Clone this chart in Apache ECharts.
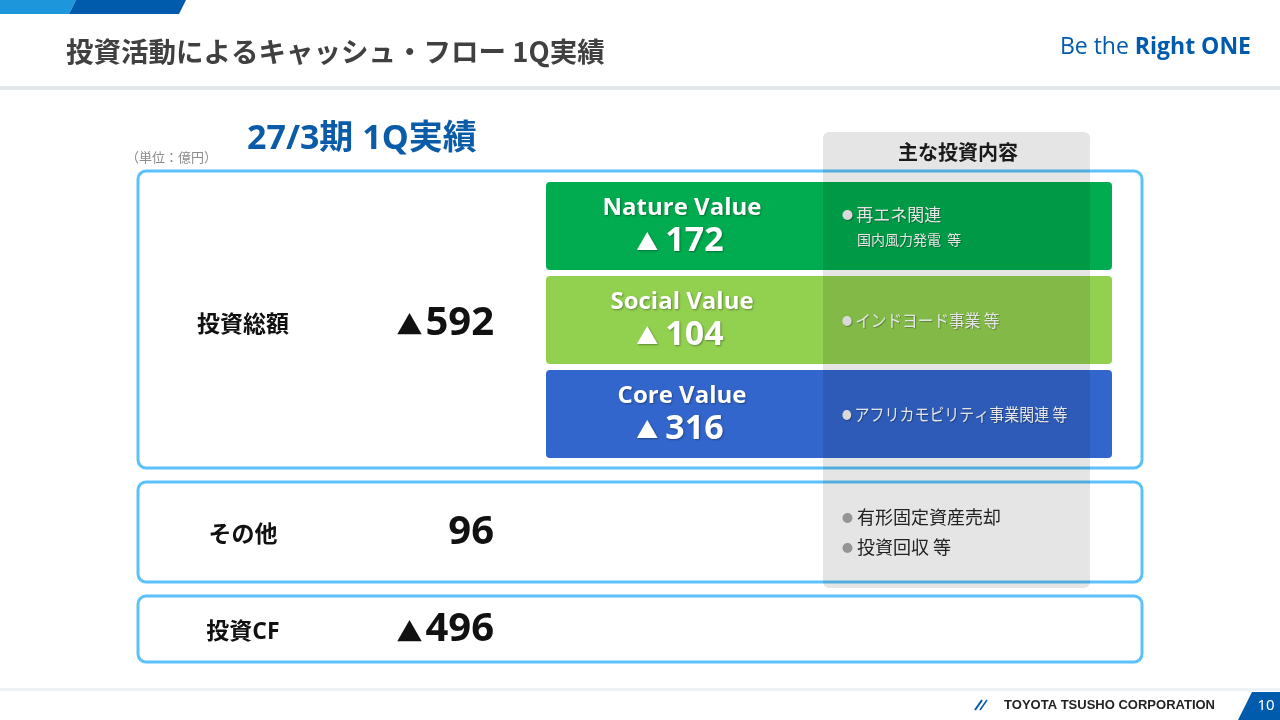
<!DOCTYPE html>
<html>
<head>
<meta charset="utf-8">
<script src="https://cdn.jsdelivr.net/npm/echarts@6/dist/echarts.min.js"></script>
<style>
html,body{margin:0;padding:0;background:#fff;}
#main{width:1280px;height:720px;}
</style>
</head>
<body>
<div id="main"></div>
<script>
// ---- data ----
const pageTitle = '投資活動によるキャッシュ・フロー 1Q実績';
const periodLabel = '27/3期 1Q実績';
const unitLabel = '（単位：億円）';
const detailHeader = '主な投資内容';
const rowLabels = ['投資総額', 'その他', '投資CF'];
const rowValues = [-592, 96, -496];
const segNames = ['Nature Value', 'Social Value', 'Core Value'];
const segValues = [-172, -104, -316];
const segDetails = ['再エネ関連', 'インドヨード事業 等', 'アフリカモビリティ事業関連 等'];
const segSubDetails = ['国内風力発電  等', '', ''];
const otherDetails = ['有形固定資産売却', '投資回収 等'];
const pageNumber = '10';

const JP = '"Noto Sans CJK JP", "Noto Sans", sans-serif';
const LAT = '"Open Sans", "Noto Sans CJK JP", sans-serif';
// value text with small triangle for negatives
const fmtRich = v => v < 0 ? '{t|▲}{n|' + Math.abs(v) + '}' : '{n|' + v + '}';
// horizontal condensing of detail lines (proportional kana in the original font)
const detailScaleX = [1, 0.92, 0.88];

const g = [];
// header bars
g.push({type:'polygon', shape:{points:[[0,0],[76,0],[69,14],[0,14]]}, style:{fill:'#1E96DC'}});
g.push({type:'polygon', shape:{points:[[76,0],[186,0],[179,14],[69,14]]}, style:{fill:'#005BAC'}});
// title
g.push({type:'text', style:{text:pageTitle, x:66, y:52, fontFamily:JP, fontWeight:'bold', fontSize:27.5, fill:'#404040', textVerticalAlign:'middle'}});
g.push({type:'text', style:{text:'{a|Be the }{b|Right ONE}', x:1251, y:47, textAlign:'right', textVerticalAlign:'middle',
  rich:{a:{fontFamily:'"Open Sans", sans-serif', fontSize:23, fill:'#005BAC', fontWeight:'normal'},
        b:{fontFamily:'"Open Sans", sans-serif', fontSize:23, fill:'#005BAC', fontWeight:'bold'}}}});
g.push({type:'rect', shape:{x:0, y:86, width:1280, height:4}, style:{fill:'#E3E7EC'}});

// period + unit
g.push({type:'text', style:{text:periodLabel, x:247, y:139, fontFamily:LAT, fontWeight:'bold', fontSize:34, fill:'#0B5CA8', textVerticalAlign:'middle'}});
g.push({type:'text', style:{text:unitLabel, x:126, y:157, fontFamily:JP, fontSize:13, fill:'#8C8C8C', textVerticalAlign:'middle'}});

// row boxes
const boxes = [[171, 297], [482, 100], [596, 66]];
boxes.forEach((b, i) => {
  g.push({type:'rect', shape:{x:138, y:b[0], width:1004, height:b[1], r:8}, style:{fill:'#fff', stroke:'#5CC1F8', lineWidth:3}});
  const cy = b[0] + b[1] / 2 + (i === 0 ? 6 : 3);
  g.push({type:'text', style:{text:rowLabels[i], x:243, y:cy, fontFamily:LAT, fontWeight:'bold', fontSize:23, fill:'#111', textAlign:'center', textVerticalAlign:'middle'}});
  g.push({type:'text', style:{text:fmtRich(rowValues[i]), x:494, y:cy - 2, textAlign:'right', textVerticalAlign:'middle',
    rich:{t:{fontFamily:JP, fontSize:26, fill:'#111', verticalAlign:'bottom', padding:[0,3,5,0]},
          n:{fontFamily:LAT, fontWeight:'bold', fontSize:40, fill:'#111', verticalAlign:'bottom'}}}});
});

// segment boxes
const segColors = ['#00AC4F', '#92D050', '#3366CC'];
const segTops = [182, 276, 370];
const sh = {textShadowColor:'rgba(0,0,0,0.35)', textShadowBlur:2, textShadowOffsetX:1, textShadowOffsetY:1};
const sh2 = {textShadowColor:'rgba(0,0,0,0.3)', textShadowBlur:1, textShadowOffsetX:1, textShadowOffsetY:1};
segNames.forEach((n, i) => {
  const y = segTops[i];
  g.push({type:'rect', shape:{x:546, y:y, width:566, height:88, r:4}, style:{fill:segColors[i]}});
  g.push({type:'text', style:Object.assign({text:n, x:682, y:y + 26, fontFamily:LAT, fontWeight:'bold', fontSize:24, fill:'#fff', textAlign:'center', textVerticalAlign:'middle'}, sh)});
  g.push({type:'text', style:Object.assign({text:fmtRich(segValues[i]), x:680, y:y + 59, textAlign:'center', textVerticalAlign:'middle',
    rich:{t:{fontFamily:JP, fontSize:22, fill:'#fff', verticalAlign:'bottom', padding:[0,7,5,0]},
          n:{fontFamily:LAT, fontWeight:'bold', fontSize:34, fill:'#fff', verticalAlign:'bottom'}}}, sh)});
  const hasSub = segSubDetails[i] !== '';
  const dy = hasSub ? y + 33 : y + 45;
  g.push({type:'text', x:842, y:dy, scaleX:detailScaleX[i], style:Object.assign({text:'{b|●} {d|' + segDetails[i] + '}', x:0, y:0, textVerticalAlign:'middle',
    rich:{b:{fontFamily:JP, fontSize:11, fill:'#F2F2F2'}, d:{fontFamily:JP, fontSize:17, fill:'#fff'}}}, sh2)});
  if (hasSub) {
    g.push({type:'text', style:Object.assign({text:segSubDetails[i], x:857, y:y + 58, fontFamily:JP, fontSize:14, fill:'#fff', textVerticalAlign:'middle'}, sh2)});
  }
});

// other details
otherDetails.forEach((t, i) => {
  const y = 517 + i * 30;
  g.push({type:'text', style:{text:'●', x:842, y:y + 1, fontFamily:JP, fontSize:11, fill:'#A6A6A6', textVerticalAlign:'middle'}});
  g.push({type:'text', style:{text:t, x:857, y:y, fontFamily:JP, fontSize:18, fill:'#262626', textVerticalAlign:'middle'}});
});

// gray overlay column
g.push({type:'rect', shape:{x:823, y:132, width:267, height:456, r:6}, style:{fill:'rgba(0,0,0,0.1)'}});
g.push({type:'text', style:{text:detailHeader, x:958, y:152, fontFamily:JP, fontWeight:'bold', fontSize:20, fill:'#1A1A1A', textAlign:'center', textVerticalAlign:'middle'}});

// footer
g.push({type:'rect', shape:{x:0, y:688, width:1280, height:3}, style:{fill:'#EEF1F5'}});
g.push({type:'polyline', shape:{points:[[975,710],[982,700]]}, style:{stroke:'#005BAC', lineWidth:2}});
g.push({type:'polyline', shape:{points:[[980,710],[987,700]]}, style:{stroke:'#005BAC', lineWidth:1.5}});
g.push({type:'text', style:{text:'TOYOTA TSUSHO CORPORATION', x:1215, y:705, fontFamily:'"Liberation Sans", Arial, sans-serif', fontWeight:'bold', fontSize:13, fill:'#222', textAlign:'right', textVerticalAlign:'middle'}});
g.push({type:'polygon', shape:{points:[[1252,692],[1280,692],[1280,720],[1238,720]]}, style:{fill:'#005BAC'}});
g.push({type:'text', style:{text:pageNumber, x:1266, y:706, fontFamily:'"Noto Sans", sans-serif', fontSize:15, fill:'#fff', textAlign:'center', textVerticalAlign:'middle'}});

const chart = echarts.init(document.getElementById('main'));
chart.setOption({animation:false, graphic:{elements:g}});
</script>
</body>
</html>
